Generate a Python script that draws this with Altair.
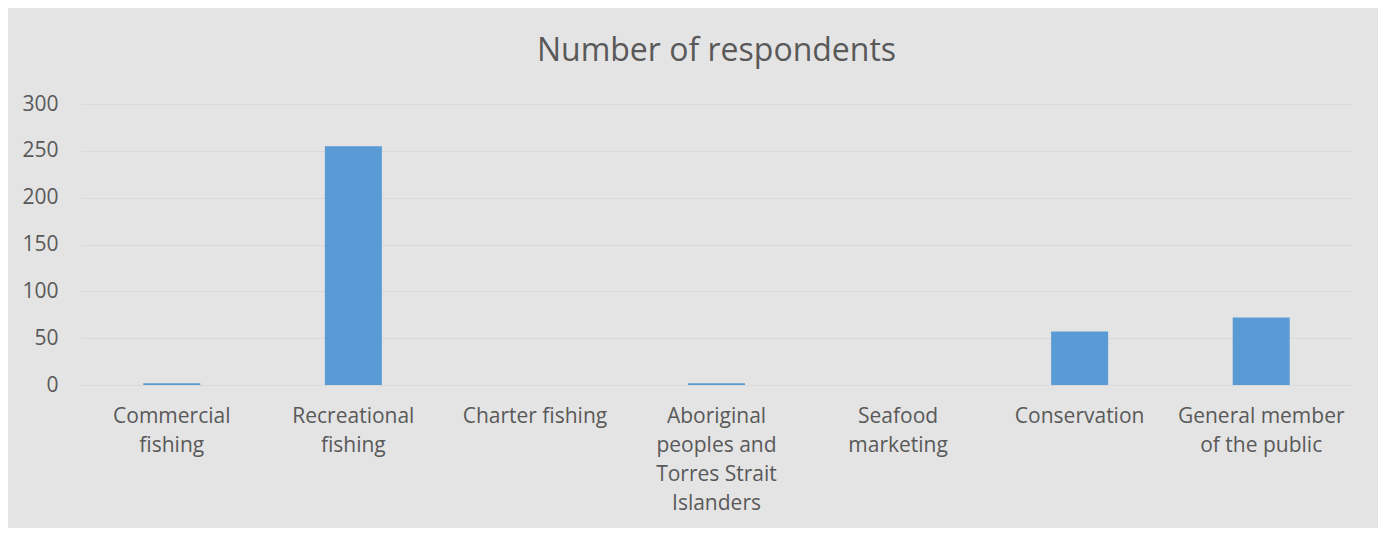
import altair as alt
import pandas as pd

categories = ["Commercial fishing", "Recreational fishing", "Charter fishing",
              "Aboriginal peoples and Torres Strait Islanders", "Seafood marketing",
              "Conservation", "General member of the public"]
labels = ["Commercial|fishing", "Recreational|fishing", "Charter fishing",
          "Aboriginal|peoples and|Torres Strait|Islanders", "Seafood|marketing",
          "Conservation", "General member|of the public"]
values = [2, 255, 0, 2, 0, 57, 72]

df = pd.DataFrame({"category": categories, "label": labels, "value": values})

FONT = "Open Sans"
GREY = "#595959"

chart = alt.Chart(df).mark_bar(color="#5b9bd5").encode(
    x=alt.X("label:N", sort=labels, title=None,
            scale=alt.Scale(paddingInner=0.686, paddingOuter=0.343),
            axis=alt.Axis(labelAngle=0, labelExpr="split(datum.label, '|')",
                          labelFont=FONT, labelFontSize=21, labelColor=GREY,
                          labelLineHeight=29, labelPadding=20, ticks=False,
                          domainColor="#d9d9d9", labelBaseline="top", labelLimit=300)),
    y=alt.Y("value:Q", title=None,
            scale=alt.Scale(domain=[0, 300]),
            axis=alt.Axis(values=[0, 50, 100, 150, 200, 250, 300], domain=False, ticks=False,
                          labelFont=FONT, labelFontSize=21, labelColor=GREY,
                          labelPadding=23, gridColor="#d9d9d9")),
).properties(
    width=1271, height=281,
    title=alt.TitleParams("Number of respondents", font=FONT, fontSize=32,
                          fontWeight="normal", color=GREY, offset=25, anchor="middle"),
    autosize=alt.AutoSizeParams(type="none"),
    padding={"left": 73, "top": 96, "right": 26, "bottom": 143},
).configure(background="#e4e4e4").configure_view(stroke=None)

chart.save("out.html", embed_options={"renderer": "svg", "actions": False})
